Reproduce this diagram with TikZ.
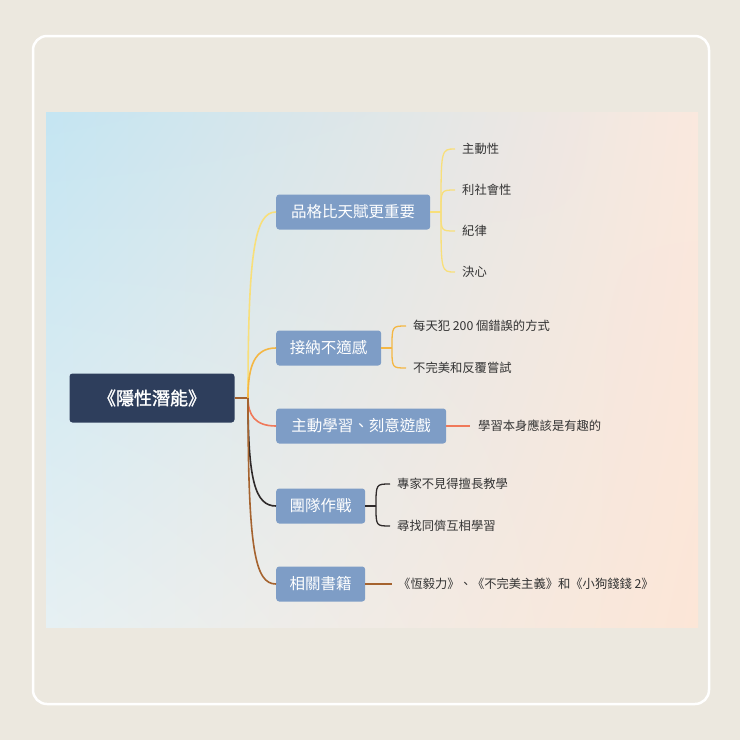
\documentclass[tikz,border=0pt]{standalone}
\usepackage{fontspec}
\usetikzlibrary{shadings}
\setmainfont{Noto Sans CJK TC}
\newfontfamily\cjkb[FakeBold=1.5]{Noto Sans CJK TC}
\begin{document}
\begin{tikzpicture}[x=1pt,y=-1pt,
  br/.style={fill=brc,rounded corners=3pt,text=white,font=\fontsize{15.5}{17}\selectfont,inner xsep=2pt,minimum height=35pt,anchor=west},
  lf/.style={font=\fontsize{12.3}{14}\selectfont,text=black!80,anchor=west,inner sep=0pt},
  cn/.style={line width=1.6pt}]
\definecolor{bg}{HTML}{ECE8DF}
\definecolor{brc}{HTML}{7E9DC6}
\definecolor{cy}{HTML}{F8DF7A}
\definecolor{co}{HTML}{F4B744}
\definecolor{cr}{HTML}{F0795A}
\definecolor{cd}{HTML}{2F2A2A}
\definecolor{cb}{HTML}{A5632F}
\definecolor{sul}{HTML}{C4E5F2}
\definecolor{sur}{HTML}{FAE8DE}
\definecolor{sll}{HTML}{E6F0F3}
\definecolor{slr}{HTML}{FCE6D7}
\definecolor{rootc}{HTML}{2E3E5C}
\fill[bg] (0,0) rectangle (740,740);
\draw[white,line width=2.5pt,rounded corners=14pt] (33,36) rectangle (709,704);
\shade[upper left=sul,upper right=sur,lower left=sll,lower right=slr] (46,112) rectangle (698,627);
\useasboundingbox (0,0) rectangle (740,740);
\node[fill=rootc,rounded corners=3pt,text=white,minimum width=165pt,minimum height=49pt,font=\cjkb\fontsize{18}{20}\selectfont] (root) at (152,398) {《隱性潛能》};
\coordinate (hub) at (248,398);
\node[br,minimum width=154pt] (b1) at (276,212) {品格比天賦更重要};
\node[br,minimum width=105pt] (b2) at (276,348) {接納不適感};
\node[br,minimum width=170pt] (b3) at (276,426) {主動學習、刻意遊戲};
\node[br,minimum width=89pt] (b4) at (276,506) {團隊作戰};
\node[br,minimum width=89pt] (b5) at (276,584) {相關書籍};
\draw[cb,cn] (root.east) -- (hub);
\draw[cy,cn] (hub) .. controls (248,250) and (255,212) .. (b1.west);
\draw[co,cn] (hub) .. controls (248,365) and (255,348) .. (b2.west);
\draw[cr,cn] (hub) .. controls (248,415) and (255,426) .. (b3.west);
\draw[cd,cn] (hub) .. controls (248,480) and (255,506) .. (b4.west);
\draw[cb,cn] (hub) .. controls (248,550) and (255,584) .. (b5.west);
% branch 1 leaves
\node[lf] (l11) at (462,149) {主動性};
\node[lf] (l12) at (462,190) {利社會性};
\node[lf] (l13) at (462,231) {紀律};
\node[lf] (l14) at (462,272) {決心};
\coordinate (k1) at (441,212);
\draw[cy,cn] (b1.east) -- (k1);
\foreach \n in {l11,l12,l13,l14}{
  \draw[cy,line width=1.3pt] (k1) .. controls (k1 |- \n.west) .. ([xshift=-7pt]\n.west);}
% branch 2
\node[lf] (l21) at (413,326) {每天犯 200 個錯誤的方式};
\node[lf] (l22) at (413,368) {不完美和反覆嘗試};
\coordinate (k2) at (392,348);
\draw[co,cn] (b2.east) -- (k2);
\foreach \n in {l21,l22}{\draw[co,line width=1.3pt] (k2) .. controls (k2 |- \n.west) .. ([xshift=-7pt]\n.west);}
% branch 3
\node[lf] (l31) at (478,426) {學習本身應該是有趣的};
\draw[cr,cn] (b3.east) -- ([xshift=-8pt]l31.west);
% branch 4
\node[lf] (l41) at (397,484) {專家不見得擅長教學};
\node[lf] (l42) at (397,526) {尋找同儕互相學習};
\coordinate (k4) at (376,506);
\draw[cd,cn] (b4.east) -- (k4);
\foreach \n in {l41,l42}{\draw[cd,line width=1.3pt] (k4) .. controls (k4 |- \n.west) .. ([xshift=-7pt]\n.west);}
% branch 5
\node[lf] (l51) at (398,584) {《恆毅力》、《不完美主義》和《小狗錢錢 2》};
\draw[cb,cn] (b5.east) -- ([xshift=-6pt]l51.west);
\end{tikzpicture}
\end{document}
